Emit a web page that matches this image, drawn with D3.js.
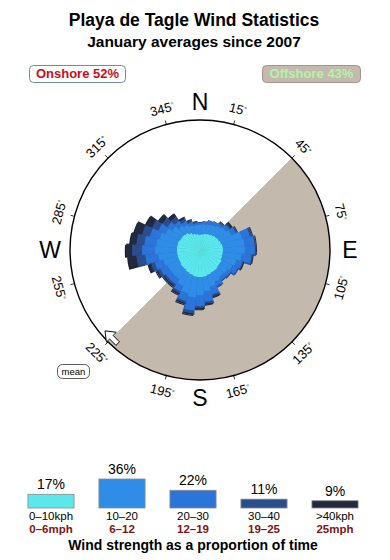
<!DOCTYPE html>
<html>
<head>
<meta charset="utf-8">
<script src="https://cdn.jsdelivr.net/npm/d3@7"></script>
<style>
  body { margin: 0; background: #fff; }
  svg { display: block; font-family: "Liberation Sans", Arial, sans-serif; }
</style>
</head>
<body>
<svg id="chart" width="390" height="560"></svg>
<script>
// direction bins (degrees, centre of each 10 degree sector)
const directions = d3.range(0, 360, 10);

// frequency per sector for each speed class (same units as radial scale)
const speed0to10 = [3.0,3.2,3.4,3.6,3.8,4.0,4.2,4.4,4.6,4.6,4.6,4.6,4.8,4.8,5.0,5.0,5.2,5.4,
                    5.4,5.4,5.2,5.0,4.8,4.8,4.6,4.6,4.6,4.6,4.6,4.6,4.4,4.4,4.2,3.8,3.4,3.2];
const speed10to20 = [2.0,2.0,2.0,2.0,2.2,2.4,2.8,4.4,4.4,4.4,3.8,3.0,2.4,2.0,1.6,2.0,2.4,3.0,
                     3.6,4.2,3.8,3.0,2.4,2.4,2.6,3.0,3.8,4.4,4.2,3.8,3.2,2.4,1.8,1.8,1.8,1.8];
const speed20to30 = [0.4,0.4,0.6,0.6,0.6,0.8,1.0,1.6,2.0,2.0,2.0,1.2,1.2,0.8,0.8,1.0,1.6,2.0,
                     2.2,2.6,1.6,1.2,1.2,1.2,1.6,1.8,2.6,2.6,2.4,2.0,1.6,1.2,1.2,0.8,0.6,0.4];
const speed30to40 = [0.2,0.2,0.2,0.2,0.2,0.4,0.2,0.4,0.2,0.2,0.2,0.2,0.2,0.2,0.2,0.2,0.4,0.4,
                     0.4,0.6,0.4,0.4,0.4,0.4,0.6,0.8,1.8,2.0,1.6,1.6,1.4,1.2,1.0,0.6,0.4,0.2];
const speedOver40 = [0.0,0.0,0.0,0.0,0.2,0.4,0.2,0.2,0.2,0.2,0.2,0.2,0.0,0.0,0.0,0.0,0.2,0.2,
                     0.2,0.2,0.2,0.2,0.2,0.2,0.2,0.4,1.6,1.2,1.2,1.6,1.4,1.0,0.8,0.4,0.2,0.2];

const speedSeries = [speed0to10, speed10to20, speed20to30, speed30to40, speedOver40];
const speedColors = ['#5ae8ec', '#2f8de8', '#2a74da', '#2b4d8e', '#23293f'];

// legend (bottom) data
const speedShares = [17, 36, 22, 11, 9];
const kphLabels = ['0–10kph', '10–20', '20–30', '30–40', '>40kph'];
const mphLabels = ['0–6mph', '6–12', '12–19', '19–25', '25mph'];

const degreeTicks = d3.range(15, 360, 30);
const compass = [['N', 0], ['E', 90], ['S', 180], ['W', 270]];

const onshorePct = 52;
const offshorePct = 43;
const offshoreFrom = 45, offshoreTo = 225;
const meanDirection = 225;

const svg = d3.select('#chart');
const cx = 200, cy = 250, R = 130;
const rad = d => d * Math.PI / 180;

// titles
svg.append('text').attr('x', 194).attr('y', 26).attr('text-anchor', 'middle')
    .style('font-size', '17.5px').style('font-weight', 'bold').text('Playa de Tagle Wind Statistics');
svg.append('text').attr('x', 194).attr('y', 47).attr('text-anchor', 'middle')
    .style('font-size', '15.5px').style('font-weight', 'bold').text('January averages since 2007');

// onshore / offshore boxes
function badge(x, y, w, h, fill, stroke, color, label) {
    svg.append('rect').attr('x', x).attr('y', y).attr('width', w).attr('height', h)
        .attr('rx', 4).attr('fill', fill).attr('stroke', stroke);
    svg.append('text').attr('x', x + w / 2).attr('y', y + h - 4.5).attr('text-anchor', 'middle')
        .style('font-size', '13px').style('font-weight', 'bold').attr('fill', color).text(label);
}
badge(29.5, 65.5, 96, 17, '#fff', '#6f8bb0', '#c8101c', `Onshore ${onshorePct}%`);
badge(262.5, 65.5, 98, 17, '#c4b9ad', '#a39788', '#b2f4a6', `Offshore ${offshorePct}%`);

const g = svg.append('g').attr('transform', `translate(${cx},${cy})`);

// offshore half-disc
g.append('path')
    .attr('d', d3.arc().innerRadius(0).outerRadius(R)
        .startAngle(rad(offshoreFrom)).endAngle(rad(offshoreTo))())
    .attr('fill', '#c4b9ad');
g.append('line')
    .attr('x1', R * Math.sin(rad(offshoreFrom))).attr('y1', -R * Math.cos(rad(offshoreFrom)))
    .attr('x2', R * Math.sin(rad(offshoreTo))).attr('y2', -R * Math.cos(rad(offshoreTo)))
    .attr('stroke', '#a9c9ea').attr('stroke-width', 1);

// rose
const r = d3.scaleLinear().domain([0, 26]).range([0, R]);
const stacked = directions.map((dir, i) => {
    let acc = 0;
    return speedSeries.map((s, k) => {
        const inner = acc;
        acc += s[i];
        return { dir, k, inner, outer: acc };
    });
}).flat().filter(d => d.outer > d.inner);

const wedge = d3.arc()
    .innerRadius(d => r(d.inner))
    .outerRadius(d => r(d.outer))
    .startAngle(d => rad(d.dir - 5))
    .endAngle(d => rad(d.dir + 5));

// shadow under the rose for the raised look
g.append('g').attr('transform', 'translate(-1.2,1.2)')
    .selectAll('path').data(stacked).join('path')
    .attr('d', wedge)
    .attr('fill', d => d3.color(speedColors[d.k]).darker(0.7));

g.append('g').selectAll('path').data(stacked).join('path')
    .attr('d', wedge)
    .attr('fill', d => speedColors[d.k]);

// outer circle
g.append('circle').attr('r', R).attr('fill', 'none').attr('stroke', '#000').attr('stroke-width', 1.4);

// degree ticks and labels
degreeTicks.forEach(a => {
    const s = Math.sin(rad(a)), c = -Math.cos(rad(a));
    g.append('line').attr('x1', s * R).attr('y1', c * R).attr('x2', s * (R + 4)).attr('y2', c * (R + 4))
        .attr('stroke', '#000').attr('stroke-width', 0.8);
    const rot = (a > 90 && a < 270) ? a - 180 : (a > 180 ? a - 360 : a);
    const t = g.append('text')
        .attr('transform', `translate(${s * 146},${c * 146}) rotate(${rot})`)
        .attr('text-anchor', 'middle').attr('dy', '0.35em')
        .style('font-size', '13px');
    t.append('tspan').text(a);
    t.append('tspan').attr('dy', '-0.5em').style('font-size', '7px').text('°');
});

// compass letters
compass.forEach(([l, a]) => {
    const dist = a % 180 === 0 ? 148 : 150;
    g.append('text')
        .attr('x', dist * Math.sin(rad(a))).attr('y', -dist * Math.cos(rad(a)))
        .attr('dy', '0.36em').attr('text-anchor', 'middle')
        .style('font-size', '23px').text(l);
});

// mean arrow, on the rim at the mean direction
const mp = [R * Math.sin(rad(meanDirection)), -R * Math.cos(rad(meanDirection))];
g.append('path')
    .attr('transform', `translate(${mp[0] + 4},${mp[1] - 4}) rotate(${meanDirection + 90})`)
    .attr('d', 'M0,-10 L7,-1 L2.5,-1 L2.5,8 L-2.5,8 L-2.5,-1 L-7,-1 Z')
    .attr('fill', '#fff').attr('stroke', '#000').attr('stroke-width', 0.9);

// mean badge
svg.append('rect').attr('x', 57.5).attr('y', 364.5).attr('width', 32).attr('height', 14)
    .attr('rx', 5).attr('fill', '#fff').attr('stroke', '#333').attr('stroke-width', 0.8);
svg.append('text').attr('x', 73.5).attr('y', 375).attr('text-anchor', 'middle')
    .style('font-size', '9.5px').text('mean');

// speed legend bars
const base = 508;
const xb = d3.scaleBand().domain(d3.range(5)).range([15.5, 370.5])
    .paddingInner(0.35).paddingOuter(0.175);
const hb = d3.scaleLinear().domain([0, 36]).range([0, 29]);
const leg = svg.append('g');
leg.selectAll('rect').data(speedShares).join('rect')
    .attr('x', (d, i) => xb(i)).attr('y', d => base - hb(d))
    .attr('width', xb.bandwidth()).attr('height', d => hb(d))
    .attr('fill', (d, i) => speedColors[i]).attr('stroke', '#8a8a8a').attr('stroke-width', 0.8);
leg.selectAll('text.pct').data(speedShares).join('text').attr('class', 'pct')
    .attr('x', (d, i) => xb(i) + xb.bandwidth() / 2).attr('y', d => base - hb(d) - 5)
    .attr('text-anchor', 'middle').style('font-size', '14px').text(d => d + '%');
leg.selectAll('text.kph').data(kphLabels).join('text').attr('class', 'kph')
    .attr('x', (d, i) => xb(i) + xb.bandwidth() / 2).attr('y', 520)
    .attr('text-anchor', 'middle').style('font-size', '11.5px').text(d => d);
leg.selectAll('text.mph').data(mphLabels).join('text').attr('class', 'mph')
    .attr('x', (d, i) => xb(i) + xb.bandwidth() / 2).attr('y', 533)
    .attr('text-anchor', 'middle').style('font-size', '11.5px').style('font-weight', 'bold')
    .attr('fill', '#7e1414').text(d => d);
svg.append('text').attr('x', 193).attr('y', 549.5).attr('text-anchor', 'middle')
    .style('font-size', '14px').style('font-weight', 'bold').text('Wind strength as a proportion of time');
</script>
</body>
</html>
